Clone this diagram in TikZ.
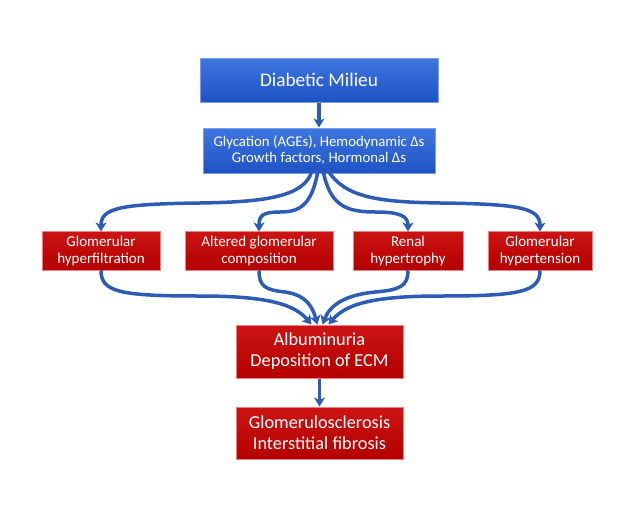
\documentclass[tikz,border=0pt]{standalone}
\usepackage{fontspec}
\setmainfont{Carlito}
\usetikzlibrary{arrows.meta}
\definecolor{arrowblue}{RGB}{44,92,182}
\definecolor{bluetop}{RGB}{62,118,224}
\definecolor{bluebot}{RGB}{30,82,196}
\definecolor{blueedge}{RGB}{120,160,230}
\definecolor{redtop}{RGB}{204,20,20}
\definecolor{redbot}{RGB}{180,0,0}
\definecolor{rededge}{RGB}{236,130,130}
\tikzset{
  bluebox/.style={draw=blueedge, line width=1pt, top color=bluetop, bottom color=bluebot, text=white, align=center, inner sep=0pt},
  redbox/.style={draw=rededge, line width=1pt, top color=redtop, bottom color=redbot, text=white, align=center, inner sep=0pt},
  conn/.style={draw=arrowblue, line width=3.5pt, -{Stealth[width=11pt,length=9pt,inset=2.5pt]}},
}
\begin{document}
\begin{tikzpicture}[x=1pt,y=-1pt]
\useasboundingbox (0,0) rectangle (640,522);
\fill[white] (0,0) rectangle (640,522);
\node[bluebox, minimum width=238pt, minimum height=44pt, font=\fontsize{19.3}{22}\selectfont] (dm) at (319,80) {Diabetic Milieu};
\node[bluebox, minimum width=232pt, minimum height=45pt, font=\fontsize{14.8}{16}\selectfont] (gly) at (319,150.5) {Glycation (AGEs), Hemodynamic Δs\\Growth factors, Hormonal Δs};
\node[redbox, minimum width=118pt, minimum height=39pt, font=\fontsize{15}{17}\selectfont] (b1) at (101,250.5) {Glomerular\\hyperfiltration};
\node[redbox, minimum width=148pt, minimum height=39pt, font=\fontsize{15}{17}\selectfont] (b2) at (259,250.5) {Altered glomerular\\composition};
\node[redbox, minimum width=110pt, minimum height=39pt, font=\fontsize{15}{17}\selectfont] (b3) at (408,250.5) {Renal\\hypertrophy};
\node[redbox, minimum width=104pt, minimum height=39pt, font=\fontsize{15}{17}\selectfont] (b4) at (540,250.5) {Glomerular\\hypertension};
\node[redbox, minimum width=167pt, minimum height=53pt, font=\fontsize{18.3}{21}\selectfont] (alb) at (319.5,351.5) {Albuminuria\\Deposition of ECM};
\node[redbox, minimum width=167pt, minimum height=52pt, font=\fontsize{18.3}{21}\selectfont] (glo) at (319.5,433) {Glomerulosclerosis\\Interstitial fibrosis};

\draw[conn] (dm.south) -- (gly.north);
\draw[conn] (alb.south) -- (glo.north);

% fan out
\draw[conn] ([xshift=-7pt,yshift=3pt]gly.south) .. controls (305,198) and (260,202) .. (200,203) .. controls (120,204) and (101,208) .. ([yshift=-1pt]b1.north);
\draw[conn] ([xshift=-1pt,yshift=3pt]gly.south) .. controls (312,205) and (300,212) .. (280,212) .. controls (262,212) and (259,216) .. ([yshift=-1pt]b2.north);
\draw[conn] ([xshift=4pt,yshift=3pt]gly.south) .. controls (330,205) and (345,212) .. (375,212) .. controls (400,212) and (408,216) .. ([yshift=-1pt]b3.north);
\draw[conn] ([xshift=9pt,yshift=3pt]gly.south) .. controls (345,198) and (380,202) .. (440,203) .. controls (520,204) and (540,208) .. ([yshift=-1pt]b4.north);

% converge
\draw[conn] (b1.south) .. controls (101,292) and (120,296) .. (200,296) .. controls (270,296) and (295,305) .. ([xshift=-8pt]alb.north);
\draw[conn] (b2.south) .. controls (259,286) and (265,290) .. (285,292) .. controls (305,295) and (312,305) .. ([xshift=-2pt]alb.north);
\draw[conn] (b3.south) .. controls (408,286) and (400,290) .. (375,292) .. controls (345,295) and (330,305) .. ([xshift=3pt]alb.north);
\draw[conn] (b4.south) .. controls (540,292) and (520,296) .. (440,296) .. controls (370,296) and (345,305) .. ([xshift=9pt]alb.north);
\end{tikzpicture}
\end{document}
